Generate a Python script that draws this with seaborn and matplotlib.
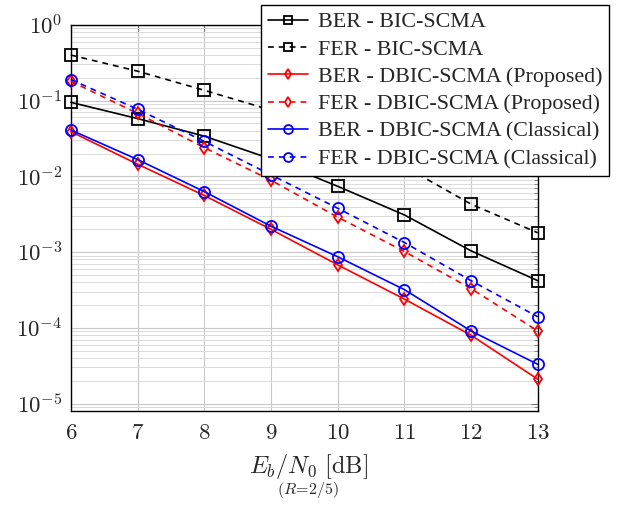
import numpy as np
import pandas as pd
import matplotlib
matplotlib.use('Agg')
import matplotlib.pyplot as plt
from matplotlib.ticker import LogLocator, NullFormatter, FuncFormatter
import seaborn as sns

snr = [6, 7, 8, 9, 10, 11, 12, 13]

ber_bic = [0.095, 0.058, 0.034, 0.017, 0.0074, 0.0031, 0.00104, 0.00042]
fer_bic = [0.40, 0.245, 0.137, 0.075, 0.038, 0.0135, 0.0043, 0.0018]
ber_prop = [0.039, 0.0145, 0.0056, 0.0020, 0.00068, 0.00024, 0.00008, 0.000021]
fer_prop = [0.18, 0.068, 0.024, 0.0089, 0.0029, 0.00102, 0.00033, 0.000091]
ber_clas = [0.041, 0.0167, 0.0063, 0.0022, 0.00087, 0.00032, 0.000091, 0.000033]
fer_clas = [0.19, 0.077, 0.029, 0.0105, 0.0038, 0.00134, 0.00042, 0.00014]

labels = ['BER - BIC-SCMA', 'FER - BIC-SCMA',
          'BER - DBIC-SCMA (Proposed)', 'FER - DBIC-SCMA (Proposed)',
          'BER - DBIC-SCMA (Classical)', 'FER - DBIC-SCMA (Classical)']
series = [ber_bic, fer_bic, ber_prop, fer_prop, ber_clas, fer_clas]
colors = ['black', 'black', 'red', 'red', 'blue', 'blue']
markers = ['s', 's', 'd', 'd', 'o', 'o']
msizes = [8, 8, 6.5, 6.5, 8, 8]
styles = ['-', '--', '-', '--', '-', '--']

sns.set_style('white')
plt.rcParams['font.family'] = ['Liberation Serif', 'DejaVu Serif']
plt.rcParams['mathtext.fontset'] = 'cm'

fig = plt.figure(figsize=(6.21, 5.08), dpi=100)
ax = fig.add_axes([0.114, 0.191, 0.752, 0.760])

for lab, y, c, m, ms, ls in zip(labels, series, colors, markers, msizes, styles):
    df = pd.DataFrame({'snr': snr, 'val': y})
    sns.lineplot(data=df, x='snr', y='val', ax=ax, color=c, marker=m,
                 markersize=ms, linestyle=ls, linewidth=1.2,
                 markerfacecolor='none', markeredgecolor=c,
                 markeredgewidth=1.3, label=lab, legend=False, clip_on=False)

for line, ls in zip(ax.get_lines(), styles):
    line.set_zorder(5)
    if ls == '--':
        line.set_dashes((3.5, 3.0))

ax.set_yscale('log')
ax.set_xlim(6, 13)
ax.set_ylim(8e-6, 1)
ax.set_xticks(snr)
ax.xaxis.set_major_formatter(FuncFormatter(lambda v, p: r'$%d$' % v))
ax.yaxis.set_major_locator(LogLocator(base=10, numticks=10))
ax.yaxis.set_major_formatter(
    FuncFormatter(lambda v, p: r'$10^{%d}$' % int(round(np.log10(v)))))
ax.yaxis.set_minor_locator(LogLocator(base=10, subs=np.arange(2, 10), numticks=20))
ax.yaxis.set_minor_formatter(NullFormatter())

ax.grid(which='major', color='#c8c8c8', linewidth=0.8)
ax.grid(which='minor', axis='y', color='#dadada', linewidth=0.7)
ax.set_axisbelow(True)

ax.tick_params(which='both', direction='in', top=True, right=True,
               labelsize=16.5, color='#777777')
ax.tick_params(which='major', length=5)
ax.tick_params(which='minor', length=3)
ax.tick_params(axis='x', pad=9)
ax.tick_params(axis='y', pad=6)
for sp in ax.spines.values():
    sp.set_color('black')
    sp.set_linewidth(1.0)

ax.set_xlabel('')
ax.set_ylabel('')
fig.text(0.496, 0.082, r'$E_b/N_0\ \mathrm{[dB]}$', ha='center', va='center',
         fontsize=17.5)
fig.text(0.496, 0.036, r'$(R\!=\!2/5)$', ha='center', va='center', fontsize=11.5)

handles, labs = ax.get_legend_handles_labels()
leg = fig.legend(handles, labs, loc='upper right',
                 bbox_to_anchor=(0.988, 0.998), fontsize=15.8,
                 frameon=True, fancybox=False, framealpha=1,
                 edgecolor='black', handlelength=1.85, handletextpad=0.45,
                 labelspacing=0.32, borderpad=0.3, borderaxespad=0.2)
leg.get_frame().set_linewidth(1.0)
leg.set_zorder(10)
for h, ms in zip(leg.legend_handles, msizes):
    h.set_markersize(ms * 0.8)

fig.savefig('out.png', dpi=100)
